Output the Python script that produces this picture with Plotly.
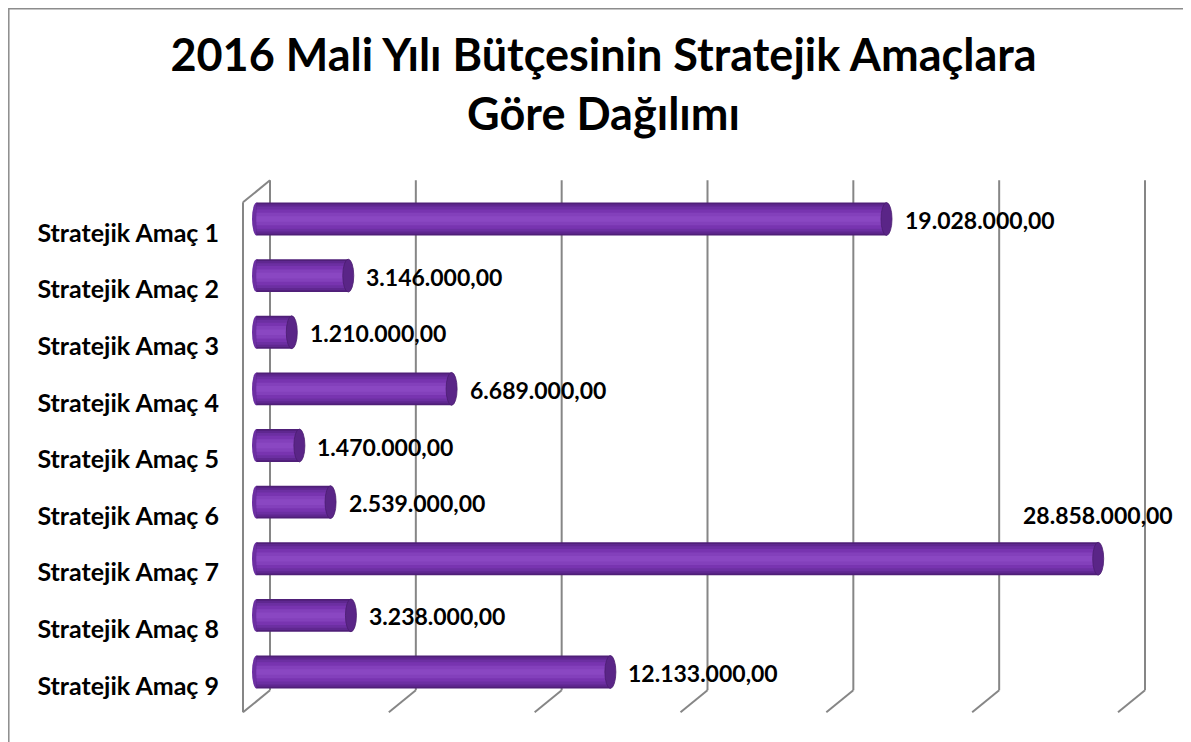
import plotly.graph_objects as go

categories = ["Stratejik Amaç 1", "Stratejik Amaç 2", "Stratejik Amaç 3",
              "Stratejik Amaç 4", "Stratejik Amaç 5", "Stratejik Amaç 6",
              "Stratejik Amaç 7", "Stratejik Amaç 8", "Stratejik Amaç 9"]
# bar lengths as drawn in the picture
values = [21600000, 3146000, 1210000, 6689000, 1470000, 2539000, 28858000, 3238000, 12133000]
# data label texts as printed on the chart
label_texts = ["19.028.000,00", "3.146.000,00", "1.210.000,00", "6.689.000,00",
               "1.470.000,00", "2.539.000,00", "28.858.000,00", "3.238.000,00",
               "12.133.000,00"]
grid_values = [0, 5000000, 10000000, 15000000, 20000000, 25000000, 30000000]
title_text = "2016 Mali Yılı Bütçesinin Stratejik Amaçlara<br>Göre Dağılımı"

W, H = 1191, 742
# plot-area frame (figure pixels)
ML, MR, MT, MB = 220, 39, 164, 30
PW, PH = W - ML - MR, H - MT - MB
# where the value scale sits inside that frame
X0_PX, X1_PX = 248.5 - ML, 1123.5 - ML          # value 0 and 30M
k = (X1_PX - X0_PX) / grid_values[-1]
x_range = [-X0_PX / k, grid_values[-1] + (PW - X1_PX) / k]
CAT_TOP, CAT_BOT = 182.7 - MT, 692.3 - MT
s = (CAT_BOT - CAT_TOP) / len(categories)
y_top = -0.5 - CAT_TOP / s
y_bot = len(categories) - 0.5 + (PH - CAT_BOT) / s
y_base = len(categories) - 0.5

def px_x(px):
    return (px - ML) / PW

def px_y(py):
    return (H - MB - py) / PH

FONT = "Lato"
fig = go.Figure()

# cylinder shading: stacked overlays from dark edge to light centre
shades = [(0.58, "#4f1f78"), (0.52, "#5f2790"), (0.44, "#6c2fa2"),
          (0.34, "#7834b0"), (0.22, "#8340bb"), (0.10, "#8a47c2")]
for w, c in shades:
    fig.add_trace(go.Bar(
        y=list(range(len(categories))), x=values, orientation="h", width=w,
        marker=dict(color=c, line=dict(width=0)),
        hoverinfo="skip", showlegend=False))

shapes = []
GRID = dict(color="#868686", width=2)
def wall_line(v, xa, ya, xb, yb):
    return dict(type="line", layer="below", xref="x", yref="y",
                xsizemode="pixel", xanchor=v, ysizemode="pixel", yanchor=y_base,
                x0=xa, x1=xb, y0=ya, y1=yb, line=GRID)

# 3D walls / gridlines derived from the axis values
for v in grid_values:
    shapes.append(wall_line(v, 13.5, 10, 13.5, 520))
    shapes.append(wall_line(v, 13.5, 10, -13.5, -12))
v0 = grid_values[0]
shapes.append(wall_line(v0, -13.5, -12, -13.5, 498))
shapes.append(wall_line(v0, -13.5, 498, 13.5, 520))

# cylinder end caps
for i, v in enumerate(values):
    shapes.append(dict(type="circle", layer="above", xref="x", yref="y",
                       xsizemode="pixel", xanchor=v, x0=-5.5, x1=5.5,
                       y0=i - 0.29, y1=i + 0.29,
                       fillcolor="#5a2587", line=dict(color="#4a1d70", width=0.8)))
    shapes.append(dict(type="circle", layer="below", xref="x", yref="y",
                       xsizemode="pixel", xanchor=0, x0=-4.5, x1=4.5,
                       y0=i - 0.29, y1=i + 0.29,
                       fillcolor="#6c2fa2", line=dict(width=0)))

# outer border
shapes.append(dict(type="rect", xref="paper", yref="paper",
                   x0=px_x(0.8), x1=px_x(1176), y0=px_y(745), y1=px_y(0.8),
                   line=dict(color="#8c8c8c", width=1.5), layer="below"))

LBL = dict(family=FONT, size=23, color="black")
annotations = []
for i, (v, t) in enumerate(zip(values, label_texts)):
    if v > 27000000:
        annotations.append(dict(x=v, y=i, xref="x", yref="y",
                                text="<b>" + t + "</b>",
                                showarrow=False, xanchor="center", yanchor="middle",
                                yshift=44, font=LBL))
    else:
        annotations.append(dict(x=v, y=i, xref="x", yref="y",
                                text="<b>" + t + "</b>",
                                showarrow=False, xanchor="left", yanchor="middle",
                                xshift=16, yshift=-1, font=LBL))

fig.update_layout(
    width=W, height=H,
    margin=dict(l=ML, r=MR, t=MT, b=MB, autoexpand=False),
    paper_bgcolor="white", plot_bgcolor="white",
    barmode="overlay",
    title=dict(text="<b>" + title_text + "</b>", x=0.5, xref="container",
               xanchor="center", y=1 - 63 / H, yanchor="middle", yref="container",
               font=dict(family=FONT, size=45, color="black")),
    xaxis=dict(range=x_range, showgrid=False, zeroline=False,
               showticklabels=False, ticks="", showline=False),
    yaxis=dict(range=[y_bot, y_top], showgrid=False, zeroline=False, showline=False,
               tickmode="array", tickvals=list(range(len(categories))),
               ticktext=["<b>" + c + "</b>" for c in categories],
               ticks="", ticklabelstandoff=8, ticklabelshift=-14,
               tickfont=dict(family=FONT, size=25, color="black")),
    shapes=shapes, annotations=annotations,
)

fig.write_html("out.html")
